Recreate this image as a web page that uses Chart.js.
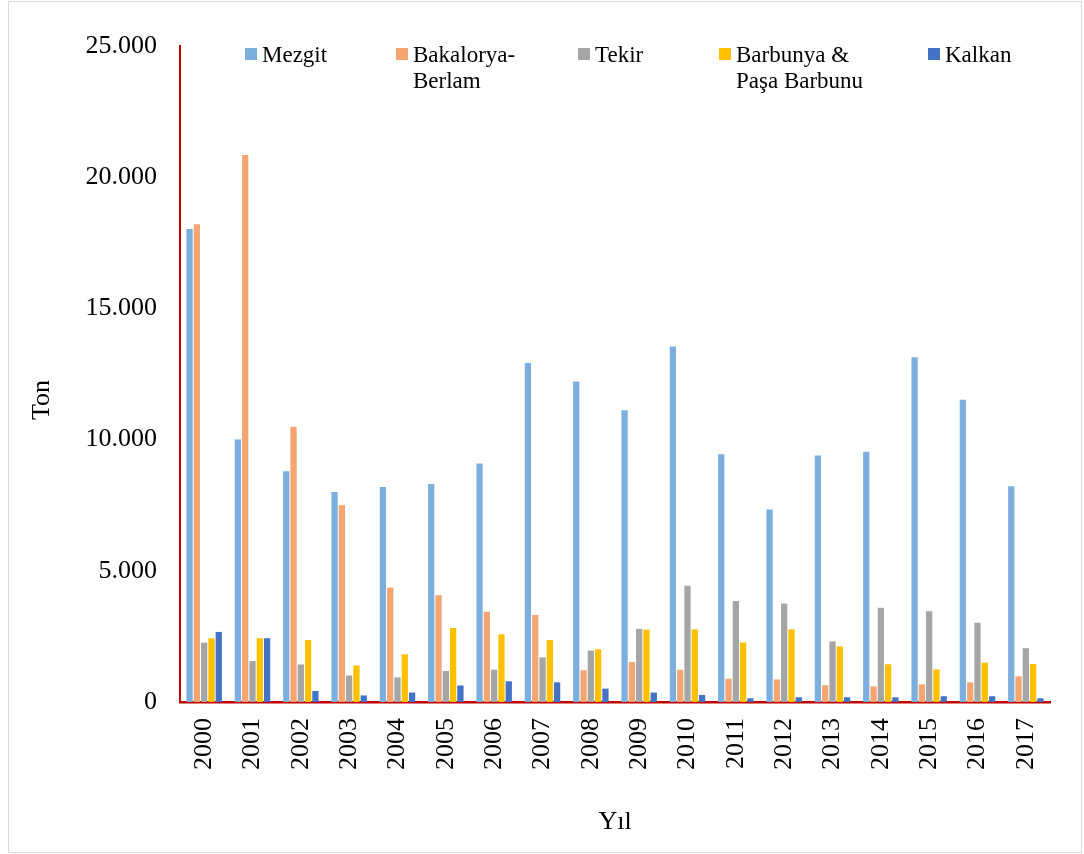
<!DOCTYPE html>
<html>
<head>
<meta charset="utf-8">
<script src="https://cdn.jsdelivr.net/npm/chart.js@4.4.0/dist/chart.umd.min.js"></script>
<style>
  html, body { margin: 0; padding: 0; background: #fff; }
  #wrap { width: 1084px; height: 854px; position: relative; }
</style>
</head>
<body>
<div id="wrap"><canvas id="chart" width="1084" height="854"></canvas></div>
<script>
// years on the x axis
const years = ['2000', '2001', '2002', '2003', '2004', '2005', '2006', '2007', '2008',
  '2009', '2010', '2011', '2012', '2013', '2014', '2015', '2016', '2017'];

// catch per species, ton
const mezgit = [18030, 10000, 8790, 8000, 8190, 8310, 9090, 12920, 12210,
  11120, 13550, 9440, 7340, 9390, 9540, 13140, 11520, 8220];
const bakalorya = [18210, 20850, 10490, 7500, 4360, 4070, 3440, 3320, 1210,
  1520, 1230, 890, 860, 640, 600, 670, 750, 980];
const tekir = [2260, 1560, 1430, 1010, 940, 1180, 1230, 1700, 1960,
  2790, 4430, 3850, 3750, 2310, 3590, 3460, 3020, 2050];
const barbunya = [2430, 2430, 2360, 1390, 1820, 2820, 2580, 2360, 2010,
  2760, 2770, 2270, 2770, 2120, 1440, 1240, 1500, 1450];
const kalkan = [2670, 2430, 420, 250, 360, 630, 790, 750, 510,
  360, 270, 140, 180, 180, 180, 220, 220, 140];

const seriesNames = ['Mezgit', 'Bakalorya-Berlam', 'Tekir', 'Barbunya & Paşa Barbunu', 'Kalkan'];
const legendLines = [['Mezgit'], ['Bakalorya-', 'Berlam'], ['Tekir'], ['Barbunya &', 'Paşa Barbunu'], ['Kalkan']];
const seriesColors = ['#7CAFDD', '#F3A572', '#A5A5A5', '#FFC000', '#4472C4'];
const yTicks = [0, 5000, 10000, 15000, 20000, 25000];

const FONT = "'Liberation Serif', 'Times New Roman', serif";
const AXIS_RED = '#C00000';

// legend + y title + frame, placed like the source figure
const decor = {
  id: 'decor',
  afterDraw(chart) {
    const ctx = chart.ctx;
    ctx.save();
    ctx.strokeStyle = '#D9D9D9';
    ctx.lineWidth = 1;
    ctx.strokeRect(8.5, 1.5, 1073, 851);

    const xs = [245, 396, 578, 719, 928];
    ctx.font = '23px ' + FONT;
    ctx.textBaseline = 'alphabetic';
    ctx.textAlign = 'left';
    legendLines.forEach((lines, i) => {
      ctx.fillStyle = seriesColors[i];
      ctx.fillRect(xs[i], 48, 12, 12);
      ctx.fillStyle = '#000';
      lines.forEach((t, j) => ctx.fillText(t, xs[i] + 17, 62 + j * 26));
    });

    ctx.translate(42, 400);
    ctx.rotate(-Math.PI / 2);
    ctx.font = '26px ' + FONT;
    ctx.textAlign = 'center';
    ctx.textBaseline = 'middle';
    ctx.fillText('Ton', 0, 0);
    ctx.restore();
  }
};

const datasets = [mezgit, bakalorya, tekir, barbunya, kalkan].map((d, i) => ({
  label: seriesNames[i],
  data: d,
  backgroundColor: seriesColors[i],
  categoryPercentage: 0.755,
  barPercentage: 0.86,
}));

new Chart(document.getElementById('chart'), {
  type: 'bar',
  data: { labels: years, datasets },
  plugins: [decor],
  options: {
    responsive: false,
    animation: false,
    layout: { padding: { top: 46, right: 34, left: 0, bottom: 0 } },
    plugins: {
      legend: { display: false },
      tooltip: { enabled: false },
    },
    scales: {
      y: {
        min: 0,
        max: 25000,
        afterBuildTicks: s => { s.ticks = yTicks.map(v => ({ value: v })); },
        afterFit: s => { s.width = 180; },
        grid: { display: false, drawTicks: false },
        border: { color: AXIS_RED, width: 2 },
        ticks: {
          color: '#000',
          padding: 23,
          font: { size: 26, family: FONT },
          callback: v => v.toLocaleString('de-DE'),
        },
      },
      x: {
        afterFit: s => { s.height = 152; },
        grid: { display: false, drawTicks: false },
        border: { color: AXIS_RED, width: 2.5 },
        ticks: {
          color: '#000',
          padding: 16,
          minRotation: 90,
          maxRotation: 90,
          autoSkip: false,
          font: { size: 26, family: FONT },
        },
        title: {
          display: true,
          text: 'Yıl',
          color: '#000',
          padding: { top: 0, bottom: 16 },
          font: { size: 26, family: FONT },
        },
      },
    },
  },
});
</script>
</body>
</html>
